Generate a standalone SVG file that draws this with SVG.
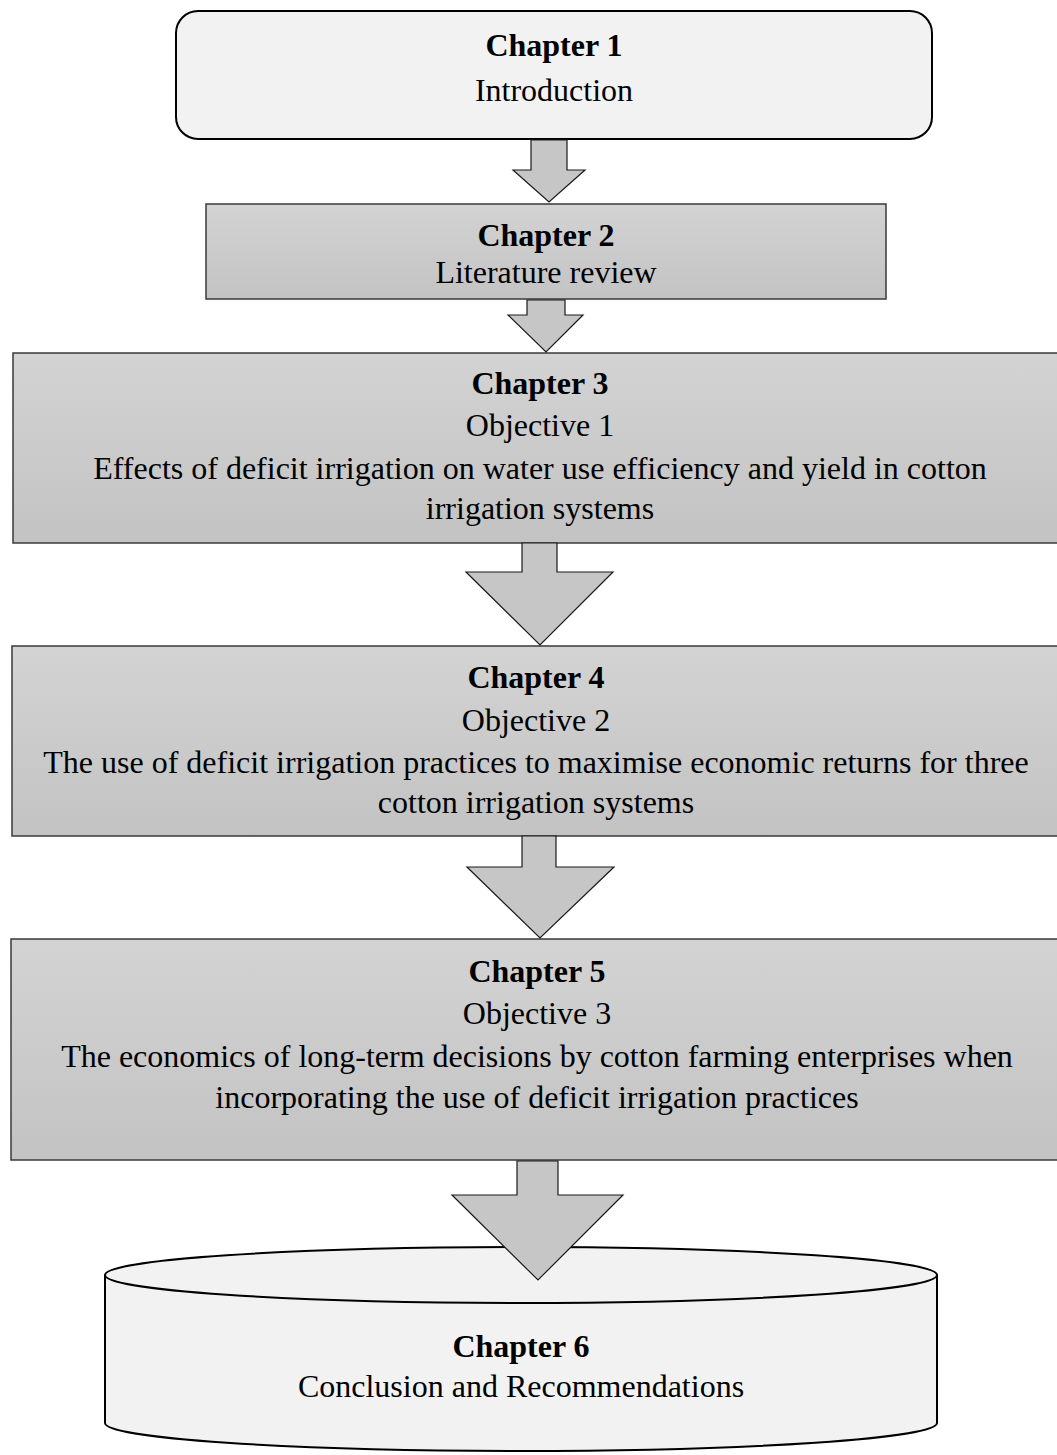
<svg xmlns="http://www.w3.org/2000/svg" width="1057" height="1455" viewBox="0 0 1057 1455">
<defs>
<linearGradient id="g" x1="0" y1="0" x2="0" y2="1">
<stop offset="0" stop-color="#d3d3d3"/>
<stop offset="1" stop-color="#c3c3c3"/>
</linearGradient>
<style>
text{font-family:"Liberation Serif","Times New Roman",serif;font-size:32px;fill:#000;text-anchor:middle}
.b{font-weight:bold}
.box{fill:url(#g);stroke:#3a3a3a;stroke-width:1.5}
.arr{fill:#c6c6c6;stroke:#1a1a1a;stroke-width:1.2;stroke-linejoin:miter}
.light{fill:#f2f2f2;stroke:#000;stroke-width:2}
</style>
</defs>
<rect width="1057" height="1455" fill="#fff"/>
<g id="node1">
<rect class="light" x="176" y="11" width="756" height="128" rx="22"/>
<text class="b" x="554" y="56">Chapter 1</text>
<text x="554" y="101">Introduction</text>
</g>
<g id="node2">
<rect class="box" x="206" y="204" width="680" height="95"/>
<text class="b" x="546" y="246">Chapter 2</text>
<text x="546" y="283">Literature review</text>
</g>
<g id="node3">
<rect class="box" x="13" y="353" width="1050" height="190"/>
<text class="b" x="540" y="394">Chapter 3</text>
<text x="540" y="436">Objective 1</text>
<text x="540" y="479">Effects of deficit irrigation on water use efficiency and yield in cotton</text>
<text x="540" y="519">irrigation systems</text>
</g>
<g id="node4">
<rect class="box" x="12" y="646" width="1050" height="190"/>
<text class="b" x="536" y="688">Chapter 4</text>
<text x="536" y="731">Objective 2</text>
<text x="536" y="773">The use of deficit irrigation practices to maximise economic returns for three</text>
<text x="536" y="813">cotton irrigation systems</text>
</g>
<g id="node5">
<rect class="box" x="11" y="939" width="1050" height="221"/>
<text class="b" x="537" y="982">Chapter 5</text>
<text x="537" y="1024">Objective 3</text>
<text x="537" y="1067">The economics of long-term decisions by cotton farming enterprises when</text>
<text x="537" y="1108">incorporating the use of deficit irrigation practices</text>
</g>
<g id="node6">
<path class="light" d="M105,1275 L105,1423 A416,28 0 0 0 937,1423 L937,1275 A416,28 0 0 0 105,1275 Z"/>
<path d="M105,1275 A416,28 0 0 0 937,1275" fill="none" stroke="#000" stroke-width="2"/>
<text class="b" x="521" y="1357">Chapter 6</text>
<text x="521" y="1397">Conclusion and Recommendations</text>
</g>
<g id="connectors">
<path class="arr" d="M531,140 L567,140 L567,170 L585,170 L549,202 L513,170 L531,170 Z"/>
<path class="arr" d="M527,300 L565,300 L565,315 L583,315 L546,352 L508,315 L527,315 Z"/>
<path class="arr" d="M522,543 L557,543 L557,572 L613,572 L540,645 L466,572 L522,572 Z"/>
<path class="arr" d="M522,836 L556,836 L556,867 L614,867 L540,938 L467,867 L522,867 Z"/>
<path class="arr" d="M517,1161 L558,1161 L558,1195 L623,1195 L538,1280 L452,1195 L517,1195 Z"/>
</g>
</svg>
